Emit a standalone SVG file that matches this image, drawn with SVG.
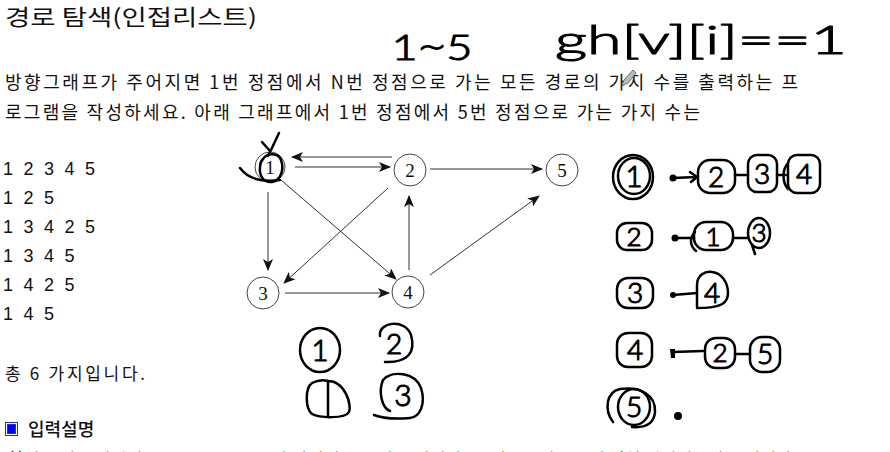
<svg xmlns="http://www.w3.org/2000/svg" width="890" height="452" viewBox="0 0 890 452">
<style>
.kr{font-family:"Noto Sans CJK KR","Noto Sans",sans-serif;fill:#111}
.num{font-family:"Liberation Sans",Arial,sans-serif;font-size:18px;fill:#111;letter-spacing:2.75px}
.node circle{fill:#fff;stroke:#444;stroke-width:1}
.node text{font-family:"Liberation Serif","Times New Roman",serif;font-size:19px;fill:#111;text-anchor:middle}
.edge{stroke:#333;stroke-width:1;fill:none;marker-end:url(#ah)}
.hw{fill:none;stroke:#000;stroke-width:2.5;stroke-linecap:round;stroke-linejoin:round}
.hwl{font-family:Lato,"DejaVu Sans",sans-serif;font-weight:300;fill:#000;stroke:#000;stroke-width:1.1;stroke-linejoin:round;text-anchor:middle}
.dot{fill:#000}
</style>
<defs>
<marker id="ah" viewBox="0 0 12 10" refX="11" refY="5" markerWidth="12" markerHeight="10" markerUnits="userSpaceOnUse" orient="auto">
<path d="M0,0 L12,5 L0,10 L3,5 z" fill="#111"/>
</marker>
</defs>
<rect width="890" height="452" fill="#fff"/>

<g id="texts">
<text class="kr" x="5" y="25" font-size="22" textLength="252" lengthAdjust="spacingAndGlyphs">경로 탐색(인접리스트)</text>
<text class="kr" x="5" y="89" font-size="18" textLength="793" lengthAdjust="spacing">방향그래프가 주어지면 1번 정점에서 N번 정점으로 가는 모든 경로의 가지 수를 출력하는 프</text>
<text class="kr" x="5" y="119" font-size="18" textLength="695" lengthAdjust="spacing">로그램을 작성하세요. 아래 그래프에서 1번 정점에서 5번 정점으로 가는 가지 수는</text>
<text class="num" x="3" y="175">1 2 3 4 5</text>
<text class="num" x="3" y="204">1 2 5</text>
<text class="num" x="3" y="233">1 3 4 2 5</text>
<text class="num" x="3" y="262">1 3 4 5</text>
<text class="num" x="3" y="291">1 4 2 5</text>
<text class="num" x="3" y="320">1 4 5</text>
<text class="kr" x="5" y="380" font-size="17" textLength="140" lengthAdjust="spacing">총 6 가지입니다.</text>
<text class="kr" x="28" y="436" font-size="18" font-weight="500">입력설명</text>
<text class="kr" x="7" y="466" font-size="17" textLength="790" lengthAdjust="spacing">첫째 줄에는 정점의 수 N(1&lt;=N&lt;=20)와 간선의 수 M가 주어진다. 그 다음부터 M줄에 걸쳐 연결정보가 주어진다.</text>
</g>

<g id="section-icon">
<rect x="5" y="422" width="13" height="14" fill="#2a2ac8"/>
<rect x="6.5" y="423.5" width="10" height="11" fill="none" stroke="#fff" stroke-width="1"/>
<rect x="8" y="425" width="7" height="8" fill="#0000ff"/>
</g>

<g id="pencil-cursor">
<path d="M636,73 L633,70 L624,80 L622,86 L628,83 Z" fill="#bbb" stroke="#555" stroke-width="0.8"/>
</g>

<g id="connectors">
<line class="edge" x1="392" y1="157" x2="292" y2="157"/>
<line class="edge" x1="295" y1="167" x2="390" y2="167"/>
<line class="edge" x1="430" y1="169" x2="542" y2="169"/>
<line class="edge" x1="268" y1="192" x2="268" y2="270"/>
<line class="edge" x1="281" y1="180" x2="396" y2="279"/>
<line class="edge" x1="388" y1="188" x2="284" y2="283"/>
<line class="edge" x1="285" y1="293" x2="389" y2="293"/>
<line class="edge" x1="409" y1="270" x2="409" y2="196"/>
<line class="edge" x1="430" y1="275" x2="539" y2="196"/>
</g>

<g id="node1" class="node"><circle cx="270" cy="167" r="15"/><text x="270" y="174">1</text></g>
<g id="node2" class="node"><circle cx="410" cy="170" r="16"/><text x="410" y="177">2</text></g>
<g id="node5" class="node"><circle cx="562" cy="170" r="16"/><text x="562" y="177">5</text></g>
<g id="node3" class="node"><circle cx="263" cy="293" r="16"/><text x="263" y="300">3</text></g>
<g id="node4" class="node"><circle cx="408" cy="292" r="16"/><text x="408" y="299">4</text></g>

<g id="annotation-node1">
<path class="hw" d="M263,159 C267,153 278,152 281,160 C284,168 282,180 272,182 C263,183 259,175 260,167 C260,163 261,161 263,159"/>
<path class="hw" d="M240,168 Q252,184 280,180"/>
<path class="hw" d="M262,142 L270,151"/>
<path class="hw" d="M279,133 L271,150 L268,156"/>
</g>

<g id="annotation-top">
<text class="hwl" x="432" y="60" font-size="36" textLength="81" lengthAdjust="spacingAndGlyphs">1∼5</text>
<text class="hwl" x="701" y="54" font-size="40" textLength="292" lengthAdjust="spacingAndGlyphs">gh[v][i]==1</text>
</g>

<g id="annotation-middle">
<ellipse class="hw" cx="320" cy="350" rx="20" ry="22"/>
<text class="hwl" x="320" y="361" font-size="30">1</text>
<path class="hw" d="M380,336 C378,322 405,318 411,335 C416,352 408,363 385,362"/>
<text class="hwl" x="394" y="354" font-size="28">2</text>
<path class="hw" d="M328,381 C345,381 352,405 349,412 C345,419 320,418 312,414 C305,408 305,388 312,383 C318,380 324,380 328,381"/>
<path class="hw" d="M328,381 L328,416"/>
<path class="hw" d="M383,380 C392,370 415,372 421,388 C426,404 420,417 410,418 C398,419 384,419 374,415"/>
<path class="hw" d="M383,380 C378,392 382,408 390,411"/>
<text class="hwl" x="403" y="406" font-size="30">3</text>
</g>

<g id="adjacency-list">
<ellipse class="hw" cx="633" cy="177" rx="20" ry="22"/>
<ellipse class="hw" cx="634" cy="176" rx="16" ry="18"/>
<text class="hwl" x="634" y="187" font-size="30">1</text>
<circle class="dot" cx="673" cy="178" r="3.5"/>
<path class="hw" d="M673,178 L696,177 M690,172 L697,177 L691,182"/>
<rect class="hw" x="698" y="160" width="37" height="33" rx="12"/>
<text class="hwl" x="716" y="187" font-size="28">2</text>
<path class="hw" d="M735,175 L748,175"/>
<rect class="hw" x="748" y="155" width="29" height="37" rx="9"/>
<text class="hwl" x="762" y="184" font-size="28">3</text>
<path class="hw" d="M777,175 L786,175 M788,163 C782,170 782,182 788,189"/>
<rect class="hw" x="788" y="155" width="32" height="38" rx="9"/>
<text class="hwl" x="804" y="184" font-size="28">4</text>

<rect class="hw" x="617" y="223" width="35" height="27" rx="10"/>
<text class="hwl" x="634" y="246" font-size="26">2</text>
<circle class="dot" cx="675" cy="238" r="3.5"/>
<path class="hw" d="M675,238 L694,238 M695,232 C689,238 690,246 696,251"/>
<rect class="hw" x="694" y="222" width="39" height="28" rx="12"/>
<text class="hwl" x="713" y="246" font-size="26">1</text>
<path class="hw" d="M733,238 L748,238"/>
<ellipse class="hw" cx="759" cy="233" rx="11" ry="15"/>
<text class="hwl" x="759" y="242" font-size="26">3</text>
<path class="hw" d="M752,245 L755,254"/>

<rect class="hw" x="617" y="278" width="36" height="30" rx="11"/>
<text class="hwl" x="635" y="303" font-size="28">3</text>
<circle class="dot" cx="673" cy="295" r="3"/>
<path class="hw" d="M673,295 L697,293"/>
<path class="hw" d="M697,307 L697,285 C697,275 705,271 712,272 C722,273 728,283 728,293 C728,303 722,308 697,308"/>
<text class="hwl" x="712" y="303" font-size="28">4</text>

<rect class="hw" x="617" y="333" width="35" height="34" rx="11"/>
<text class="hwl" x="635" y="360" font-size="28">4</text>
<path d="M670,349 L675,349 L675,358 L671,358 Z" class="dot"/>
<path class="hw" d="M673,352 L703,351"/>
<rect class="hw" x="705" y="338" width="30" height="30" rx="11"/>
<text class="hwl" x="720" y="362" font-size="26">2</text>
<path class="hw" d="M735,354 L750,354"/>
<rect class="hw" x="750" y="337" width="30" height="35" rx="12"/>
<text class="hwl" x="765" y="364" font-size="28">5</text>

<ellipse class="hw" cx="634" cy="407" rx="16" ry="18"/>
<path class="hw" d="M613,422 C604,410 606,392 620,389 C640,386 656,395 655,412 C654,424 645,428 632,427"/>
<text class="hwl" x="634" y="417" font-size="28">5</text>
<circle class="dot" cx="678" cy="416" r="4"/>
</g>
</svg>
